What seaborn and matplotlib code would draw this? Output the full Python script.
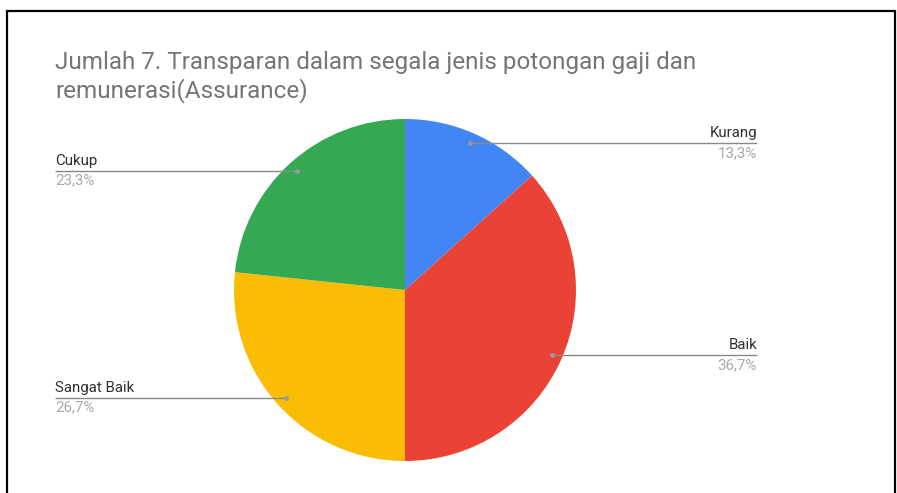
import numpy as np
import matplotlib
matplotlib.use("Agg")
import matplotlib.pyplot as plt
import seaborn as sns

categories = ["Kurang", "Baik", "Sangat Baik", "Cukup"]
counts = [4, 11, 8, 7]
pct_labels = ["13,3%", "36,7%", "26,7%", "23,3%"]
colors = ["#4285F4", "#EA4335", "#FBBC04", "#34A853"]
title = "Jumlah 7. Transparan dalam segala jenis potongan gaji dan\nremunerasi(Assurance)"

sns.set_theme(style="white")
plt.rcParams["font.family"] = ["Roboto", "DejaVu Sans"]

W, H = 897, 493
fig = plt.figure(figsize=(W / 100, H / 100), dpi=100)
fig.patch.set_facecolor("white")
ax = fig.add_axes([0, 0, 1, 1])

cx, cy, R = 405, H - 290, 171
wedges, _ = ax.pie(counts, colors=colors, startangle=90, counterclock=False,
                   center=(cx, cy), radius=R, frame=True,
                   wedgeprops=dict(linewidth=0))
ax.set_xlim(0, W)
ax.set_ylim(0, H)
ax.set_aspect("equal")
ax.axis("off")

right_x, left_x = 757, 55
for w, name, pct in zip(wedges, categories, pct_labels):
    mid = np.deg2rad((w.theta1 + w.theta2) / 2)
    px = cx + 0.94 * R * np.cos(mid)
    py = cy + 0.94 * R * np.sin(mid)
    if px > cx:
        tx, ha = right_x, "right"
    else:
        tx, ha = left_x, "left"
    ax.plot([px, tx], [py, py], color="#8a8a8a", lw=1.0, solid_capstyle="butt")
    ax.plot([px], [py], marker="o", ms=3.5, color="#9a9a9a", mec="none")
    ax.text(tx, py + 3, name, ha=ha, va="bottom", fontsize=10.8, color="#303030")
    ax.text(tx, py - 3, pct, ha=ha, va="top", fontsize=10.8, color="#a8a8a8")

fig.text(55 / W, 1 - 51 / H, title, ha="left", va="top", fontsize=17.5,
         color="#757575", linespacing=1.22)

# frame border
ax.plot([7, 7, 895, 895], [0, H - 11, H - 11, 0], color="black", lw=1.6,
        solid_joinstyle="miter")

fig.savefig("out.png", dpi=100, facecolor="white")
